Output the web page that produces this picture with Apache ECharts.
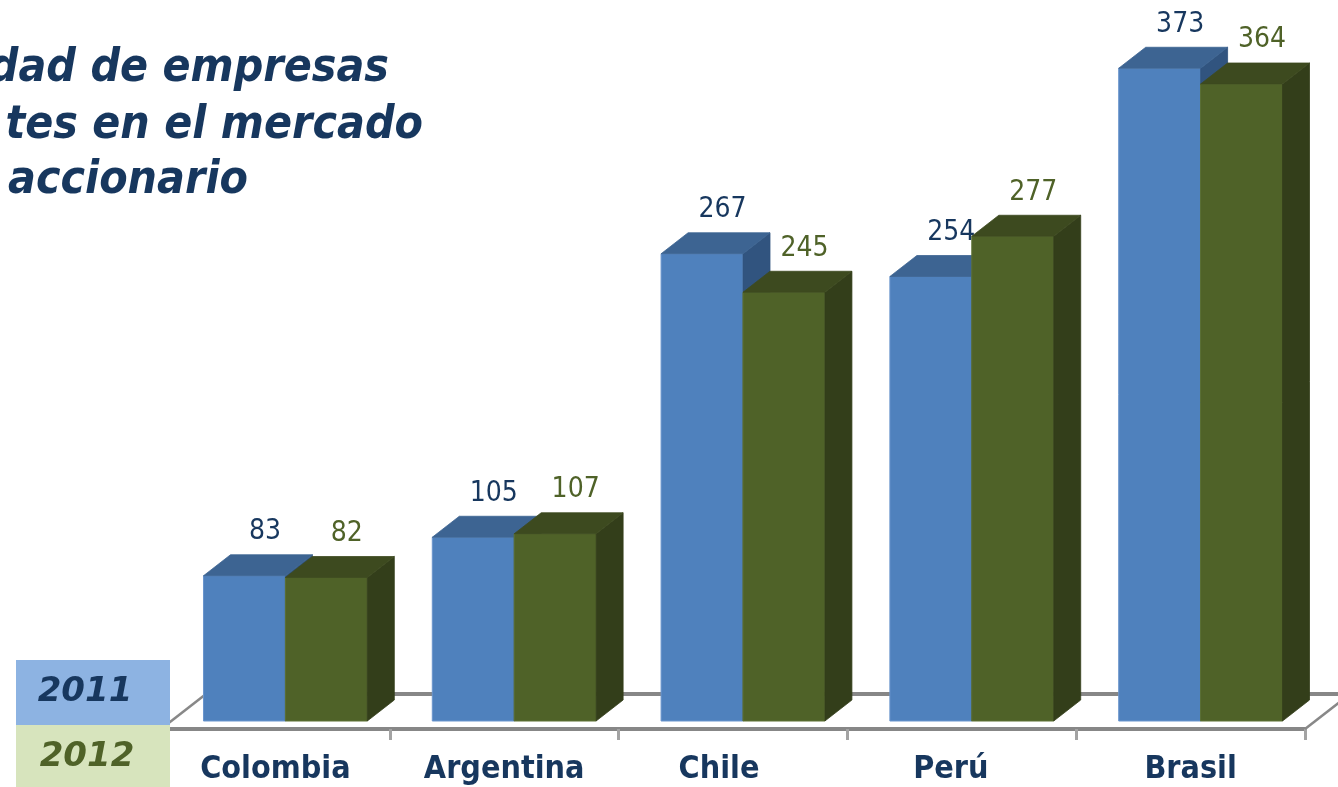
<!DOCTYPE html>
<html>
<head>
<meta charset="utf-8">
<script src="https://cdn.jsdelivr.net/npm/echarts@6/dist/echarts.min.js"></script>
<style>
  html, body { margin: 0; padding: 0; background: #ffffff; }
  #chart { width: 1338px; height: 787px; }
</style>
</head>
<body>
<div id="chart"></div>
<script>
// Listed companies per market, 2011 vs 2012
const categories = ['Colombia', 'Argentina', 'Chile', 'Perú', 'Brasil'];
const seriesNames = ['2011', '2012'];
const values2011 = [83, 105, 267, 254, 373];
const values2012 = [82, 107, 245, 277, 364];
const titleLines = ['dad de empresas', 'tes en el mercado', 'accionario'];

// 3D look: receding offset of bar tops/sides and of the floor plate
const DEPTH_X = 27, DEPTH_Y = 21;
const BAR_RATIO = 0.358;
const FLOOR_SHIFT_X = -10, FLOOR_SHIFT_Y = 8;
const FLOOR_DX = 45, FLOOR_DY = 35;

const NAVY = '#17375e';
const OLIVE = '#4f6228';
const FONT = "'DejaVu Sans Condensed', 'DejaVu Sans', sans-serif";
const TITLE_FONT = "italic bold 46px " + FONT;

// small horizontal nudges (px) for individual category captions
const captionNudge = [0, 0, -14, -11, 0];

const palettes = [
  { front: '#4f81bd', top: '#3d6492', side: '#31547f', edge: '#6a95cd', label: NAVY },
  { front: '#4f6228', top: '#3d4a1f', side: '#333e1a', edge: '#5c7032', label: OLIVE }
];

function barRenderer(slot) {
  const c = palettes[slot];
  return function (params, api) {
    const idx = api.value(0);
    const val = api.value(1);
    const base = api.coord([idx, 0]);
    const top = api.coord([idx, val]);
    const w = api.size([1, 0])[0] * BAR_RATIO;
    const x0 = slot === 0 ? base[0] - w : base[0];
    const x1 = x0 + w;
    const yb = base[1];
    const yt = top[1];
    return {
      type: 'group',
      children: [
        {
          type: 'rect',
          shape: { x: x0, y: yt, width: w, height: yb - yt },
          style: { fill: c.front, stroke: c.edge, lineWidth: 1 }
        },
        {
          type: 'polygon',
          shape: { points: [[x1, yt], [x1 + DEPTH_X, yt - DEPTH_Y], [x1 + DEPTH_X, yb - DEPTH_Y], [x1, yb]] },
          style: { fill: c.side, stroke: c.side, lineWidth: 0.8 }
        },
        {
          type: 'polygon',
          shape: { points: [[x0, yt], [x1, yt], [x1 + DEPTH_X, yt - DEPTH_Y], [x0 + DEPTH_X, yt - DEPTH_Y]] },
          style: { fill: c.top, stroke: c.top, lineWidth: 0.8 }
        },
        {
          type: 'text',
          style: {
            text: String(val),
            x: (x0 + x1) / 2 + DEPTH_X / 2 + 7,
            y: yt - DEPTH_Y - 23,
            align: 'center', verticalAlign: 'middle',
            textAlign: 'center', textVerticalAlign: 'middle',
            fill: c.label,
            font: "28px " + FONT
          }
        }
      ]
    };
  };
}

function floorRenderer(params, api) {
  const band = api.size([1, 0])[0];
  const first = api.coord([0, 0]);
  const last = api.coord([categories.length - 1, 0]);
  const left = first[0] - band / 2 + FLOOR_SHIFT_X;
  const right = last[0] + band / 2 + FLOOR_SHIFT_X;
  const y = first[1] + FLOOR_SHIFT_Y;
  const backY = y - FLOOR_DY;
  const lineStyle = { stroke: '#888888', lineWidth: 2.5 };
  return {
    type: 'group',
    children: [
      { type: 'line', shape: { x1: left, y1: y, x2: left + FLOOR_DX, y2: backY }, style: lineStyle },
      { type: 'line', shape: { x1: right, y1: y, x2: right + FLOOR_DX, y2: backY }, style: lineStyle },
      { type: 'line', shape: { x1: left + FLOOR_DX, y1: backY, x2: right + FLOOR_DX, y2: backY },
        style: { stroke: '#878787', lineWidth: 4 } }
    ]
  };
}

const captionRich = {};
captionNudge.forEach((n, i) => {
  captionRich['c' + i] = {
    color: NAVY, fontFamily: FONT, fontWeight: 'bold', fontSize: 32,
    padding: n < 0 ? [0, -2 * n, 0, 0] : [0, 0, 0, 2 * n]
  };
});

const legendColors = [
  { box: '#8db3e2', text: NAVY },
  { box: '#d7e4bd', text: OLIVE }
];

const chart = echarts.init(document.getElementById('chart'), null, { renderer: 'canvas' });

const option = {
  backgroundColor: '#ffffff',
  animation: false,
  grid: [
    { left: 171, right: 23, top: 21, bottom: 66 },
    { left: 161, right: 33, top: 21, bottom: 58 }
  ],
  xAxis: [
    { type: 'category', gridIndex: 0, data: categories, show: false },
    {
      type: 'category', gridIndex: 1, data: categories,
      axisLine: { show: true, lineStyle: { color: '#878787', width: 4 } },
      axisTick: { show: true, inside: false, alignWithLabel: false, interval: 0, length: 11,
                  lineStyle: { color: '#a3a3a3', width: 3 } },
      axisLabel: {
        interval: 0,
        hideOverlap: false,
        margin: 25,
        color: NAVY,
        fontFamily: FONT,
        fontWeight: 'bold',
        fontSize: 32,
        formatter: (value, index) => '{c' + index + '|' + value + '}',
        rich: captionRich
      }
    }
  ],
  yAxis: [
    { type: 'value', gridIndex: 0, min: 0, max: 400, show: false },
    { type: 'value', gridIndex: 1, min: 0, max: 400, show: false }
  ],
  series: [
    {
      type: 'custom', name: 'floor', xAxisIndex: 0, yAxisIndex: 0, z: 1, silent: true,
      data: [[0, 0]], encode: { x: 0, y: 1 }, renderItem: floorRenderer
    },
    {
      type: 'custom', name: seriesNames[0], xAxisIndex: 0, yAxisIndex: 0, z: 2,
      data: values2011.map((v, i) => [i, v]), encode: { x: 0, y: 1 },
      renderItem: barRenderer(0)
    },
    {
      type: 'custom', name: seriesNames[1], xAxisIndex: 0, yAxisIndex: 0, z: 3,
      data: values2012.map((v, i) => [i, v]), encode: { x: 0, y: 1 },
      renderItem: barRenderer(1)
    }
  ],
  graphic: [
    // title block, right-aligned lines running off the left edge
    { type: 'text', z: 100, style: { text: titleLines[0], x: 389, y: 69, align: 'right', verticalAlign: 'middle', textAlign: 'right', textVerticalAlign: 'middle', fill: NAVY, font: TITLE_FONT } },
    { type: 'text', z: 100, style: { text: titleLines[1], x: 423, y: 126, align: 'right', verticalAlign: 'middle', textAlign: 'right', textVerticalAlign: 'middle', fill: NAVY, font: TITLE_FONT } },
    { type: 'text', z: 100, style: { text: titleLines[2], x: 248, y: 181, align: 'right', verticalAlign: 'middle', textAlign: 'right', textVerticalAlign: 'middle', fill: NAVY, font: TITLE_FONT } },
    // year key
    { type: 'rect', z: 100, shape: { x: 16, y: 660, width: 154, height: 65 }, style: { fill: legendColors[0].box } },
    { type: 'rect', z: 100, shape: { x: 16, y: 725, width: 154, height: 62 }, style: { fill: legendColors[1].box } },
    { type: 'text', z: 101, style: { text: seriesNames[0], x: 85, y: 692, align: 'center', verticalAlign: 'middle', textAlign: 'center', textVerticalAlign: 'middle', fill: legendColors[0].text, font: "italic bold 34px 'DejaVu Sans', sans-serif" } },
    { type: 'text', z: 101, style: { text: seriesNames[1], x: 87, y: 757, align: 'center', verticalAlign: 'middle', textAlign: 'center', textVerticalAlign: 'middle', fill: legendColors[1].text, font: "italic bold 34px 'DejaVu Sans', sans-serif" } }
  ]
};

chart.setOption(option);
</script>
</body>
</html>
